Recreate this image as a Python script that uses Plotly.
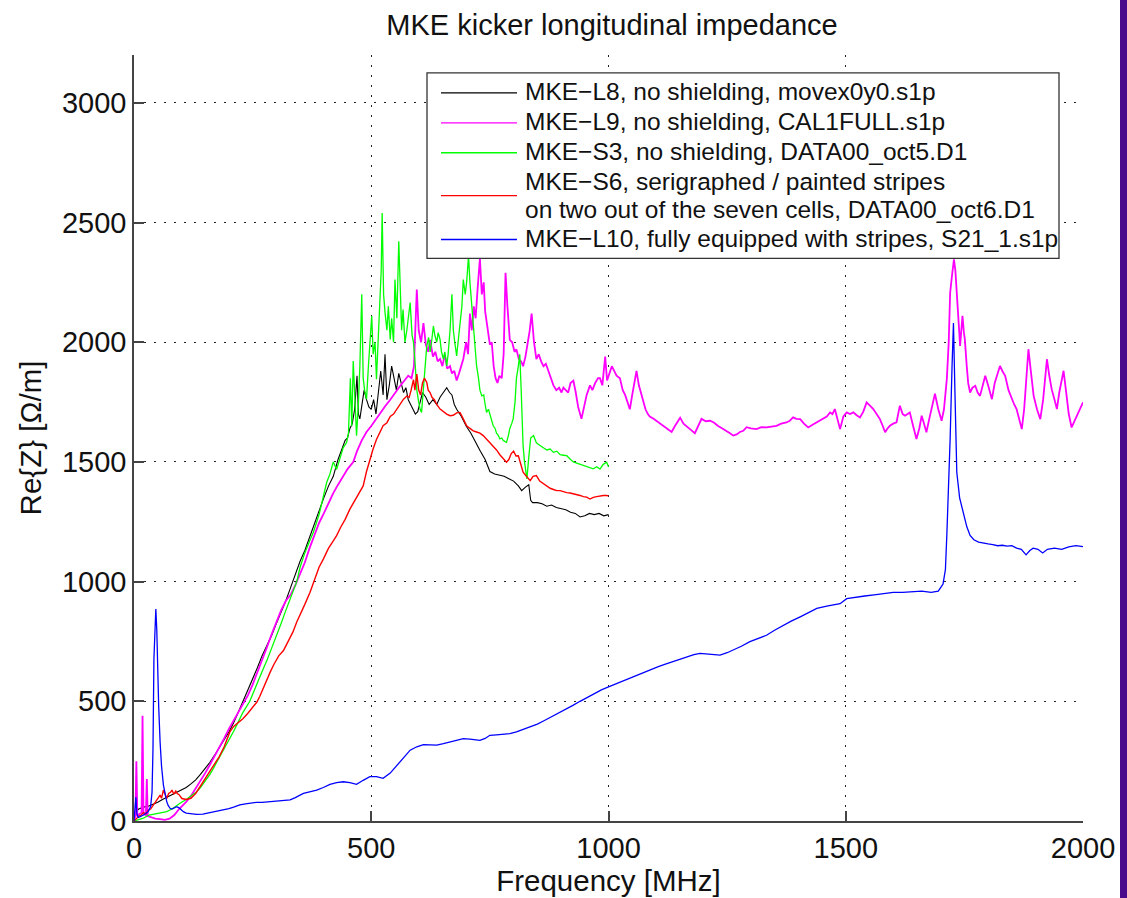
import plotly.graph_objects as go

# ---- MKE-L8, no shielding ----
freq_l8 = [0, 5, 10, 20, 30, 40, 50, 60, 70, 80, 90, 100, 110, 120, 130, 140, 150, 160, 170, 180,
           190, 200, 210, 220, 230, 240, 250, 260, 270, 280, 290, 300, 310, 320, 330, 340, 350, 360,
           370, 380, 390, 400, 410, 420, 430, 440, 445, 450, 455, 460, 465, 470, 473, 476, 480, 485,
           490, 495, 500, 505, 510, 515, 520, 525, 529, 533, 538, 543, 548, 553, 558, 563, 568, 573,
           578, 583, 588, 593, 598, 603, 608, 615, 622, 630, 638, 645, 652, 659, 665, 670, 675, 680,
           690, 700, 710, 720, 730, 740, 750, 760, 770, 780, 790, 800, 810, 817, 825, 832, 836, 840,
           850, 860, 870, 880, 890, 900, 910, 920, 930, 940, 950, 960, 970, 980, 990, 1000]
z_l8 = [5, 40, 50, 58, 62, 70, 78, 90, 100, 108, 118, 127, 140, 155, 172, 195, 218, 245, 275, 305,
        340, 372, 410, 455, 500, 545, 595, 640, 690, 730, 775, 825, 870, 920, 975, 1030, 1085, 1130,
        1185, 1240, 1300, 1350, 1400, 1440, 1510, 1560, 1590, 1600, 1640, 1660, 1720, 1860, 1700, 1680,
        1740, 1800, 1760, 1730, 1720, 1760, 1700, 1800, 1880, 1780, 1950, 1760, 1820, 1900, 1850, 1800,
        1870, 1830, 1790, 1810, 1760, 1740, 1720, 1700, 1710, 1750, 1790, 1770, 1740, 1760, 1740, 1770,
        1790, 1810, 1790, 1780, 1740, 1720, 1690, 1650, 1620, 1580, 1545, 1510, 1460, 1450, 1445, 1440,
        1430, 1420, 1400, 1380, 1395, 1405, 1340, 1330, 1330, 1325, 1315, 1320, 1310, 1305, 1300, 1290,
        1285, 1270, 1275, 1285, 1280, 1285, 1275, 1280]

# ---- MKE-L9, no shielding ----
freq_l9 = [0, 3, 5, 7, 12, 16, 18, 20, 25, 27, 29, 35, 45, 55, 65, 75, 85, 95, 100, 110, 120, 130,
           140, 150, 160, 170, 180, 190, 200, 210, 220, 234, 240, 250, 260, 270, 280, 290, 300, 310,
           320, 330, 340, 350, 360, 370, 380, 390, 400, 410, 420, 430, 440, 450, 462, 470, 480, 490,
           500, 510, 520, 530, 540, 550, 560, 570, 578, 585, 590, 596, 600, 605, 610, 615, 620, 624,
           630, 635, 640, 645, 650, 655, 660, 666, 670, 675, 680, 685, 690, 694, 700, 704, 708, 712,
           716, 720, 724, 729, 733, 737, 740, 745, 750, 754, 758, 762, 766, 770, 775, 779, 783, 787,
           792, 797, 802, 806, 811, 816, 820, 825, 830, 834, 838, 843, 848, 853, 858, 863, 868, 873,
           878, 884, 890, 896, 901, 905, 910, 915, 920, 926, 931, 936, 943, 948, 954, 961, 966, 972,
           978, 982, 987, 993, 997, 1002, 1007, 1012, 1017, 1024, 1030, 1035, 1040, 1045, 1050, 1055,
           1059, 1064, 1069, 1073, 1078, 1083, 1087, 1095, 1102, 1109, 1116, 1124, 1133, 1140, 1146,
           1151, 1158, 1165, 1173, 1182, 1189, 1196, 1205, 1214, 1222, 1231, 1240, 1249, 1256, 1263,
           1270, 1277, 1284, 1291, 1300, 1312, 1322, 1333, 1343, 1354, 1364, 1375, 1382, 1389, 1396,
           1404, 1412, 1421, 1430, 1439, 1446, 1453, 1460, 1467, 1472, 1477, 1482, 1488, 1495, 1502,
           1509, 1516, 1523, 1530, 1537, 1544, 1551, 1558, 1565, 1572, 1578, 1583, 1588, 1593, 1600,
           1607, 1614, 1620, 1625, 1630, 1635, 1642, 1649, 1655, 1660, 1665, 1670, 1676, 1682, 1688,
           1695, 1702, 1707, 1713, 1717, 1720, 1724, 1728, 1731, 1734, 1738, 1741, 1744, 1746, 1749,
           1751, 1755, 1758, 1762, 1767, 1773, 1778, 1783, 1788, 1794, 1800, 1808, 1814, 1820, 1825,
           1830, 1836, 1843, 1850, 1855, 1860, 1866, 1871, 1876, 1881, 1885, 1890, 1896, 1903, 1910,
           1916, 1920, 1924, 1929, 1934, 1940, 1945, 1950, 1955, 1959, 1964, 1970, 1976, 1982, 1987,
           1993, 2000]
z_l9 = [5, 20, 250, 20, 30, 35, 440, 30, 25, 175, 20, 15, 10, 8, 5, 10, 25, 50, 60, 80, 105, 135,
        165, 200, 235, 270, 305, 345, 385, 420, 455, 500, 525, 570, 620, 675, 725, 780, 830, 880,
        920, 945, 985, 1030, 1080, 1140, 1195, 1245, 1285, 1330, 1370, 1405, 1440, 1470, 1500, 1545,
        1590, 1625, 1650, 1680, 1705, 1735, 1760, 1790, 1815, 1840, 1860, 1850, 1900, 2220, 2050,
        2000, 2080, 1990, 1960, 2010, 1940, 1960, 1920, 1930, 1900, 1950, 1890, 1900, 1870, 1880,
        1840, 1870, 1900, 1930, 2000, 1950, 2120, 2050, 2150, 2100, 2220, 2350, 2200, 2250, 2130,
        2050, 1990, 2000, 1900, 1850, 1830, 1860, 1850, 1950, 2290, 2150, 2010, 2000, 1960, 1970,
        1930, 1920, 1900, 1940, 2000, 2050, 2120, 2000, 1930, 1950, 1920, 1900, 1910, 1880, 1850,
        1820, 1800, 1810, 1790, 1810, 1800, 1790, 1830, 1840, 1790, 1730, 1680, 1720, 1780, 1820,
        1800, 1830, 1850, 1850, 1820, 1940, 1840, 1870, 1900, 1880, 1860, 1850, 1800, 1780, 1750,
        1720, 1780, 1840, 1880, 1820, 1780, 1750, 1720, 1700, 1690, 1680, 1670, 1660, 1650, 1640,
        1625, 1650, 1670, 1685, 1660, 1650, 1635, 1620, 1650, 1680, 1670, 1672, 1665, 1650, 1640,
        1630, 1620, 1610, 1615, 1625, 1630, 1645, 1640, 1637, 1645, 1644, 1648, 1651, 1660, 1665,
        1672, 1686, 1680, 1679, 1660, 1644, 1655, 1665, 1672, 1679, 1690, 1707, 1700, 1721, 1680,
        1637, 1690, 1707, 1700, 1707, 1695, 1686, 1710, 1749, 1735, 1721, 1700, 1679, 1650, 1624,
        1640, 1651, 1660, 1665, 1735, 1700, 1693, 1700, 1707, 1650, 1596, 1640, 1693, 1660, 1624,
        1680, 1740, 1785, 1720, 1672, 1720, 1846, 2000, 2207, 2280, 2346, 2300, 2221, 2080, 1985,
        2060, 2110, 2040, 2012, 1900, 1830, 1790, 1810, 1818, 1790, 1776, 1810, 1860, 1820, 1762,
        1830, 1870, 1901, 1880, 1860, 1800, 1762, 1740, 1721, 1680, 1637, 1720, 1850, 1971, 1880,
        1776, 1720, 1679, 1760, 1850, 1929, 1860, 1804, 1760, 1721, 1790, 1850, 1881, 1800, 1700,
        1644, 1670, 1693, 1720, 1749]

# ---- MKE-S3, no shielding ----
freq_s3 = [0, 10, 20, 32, 45, 55, 69, 80, 90, 97, 110, 120, 132, 140, 150, 160, 167, 180, 190, 202,
           210, 220, 230, 244, 250, 260, 270, 280, 290, 300, 310, 320, 330, 343, 350, 360, 370, 378,
           390, 400, 406, 413, 420, 427, 434, 441, 448, 452, 456, 459, 462, 466, 469, 473, 476, 480,
           483, 486, 490, 494, 497, 501, 504, 508, 511, 514, 518, 521, 523, 526, 529, 533, 536, 540,
           543, 547, 550, 554, 558, 561, 564, 567, 571, 575, 578, 582, 586, 589, 592, 596, 600, 603,
           606, 610, 614, 617, 621, 624, 627, 631, 634, 638, 641, 645, 648, 652, 655, 659, 662, 666,
           670, 673, 676, 680, 683, 687, 691, 694, 698, 701, 705, 708, 712, 715, 718, 722, 726, 729,
           733, 737, 740, 743, 747, 750, 754, 757, 761, 764, 768, 771, 775, 778, 782, 785, 789, 792,
           796, 799, 803, 806, 810, 813, 816, 818, 820, 823, 826, 828, 832, 836, 842, 848, 855, 862,
           870, 877, 884, 891, 898, 905, 912, 920, 926, 933, 940, 947, 954, 961, 968, 975, 982, 989,
           996, 1000]
z_s3 = [0, 5, 12, 25, 30, 33, 39, 50, 62, 74, 90, 105, 122, 140, 165, 195, 219, 265, 300, 344,
        375, 415, 455, 500, 530, 580, 625, 670, 720, 770, 825, 880, 935, 1000, 1060, 1120, 1170, 1206,
        1280, 1360, 1414, 1450, 1500, 1469, 1520, 1560, 1581, 1620, 1850, 1650, 1922, 1700, 1610, 1750,
        1900, 2200, 1850, 1800, 1762, 1900, 2000, 2110, 1950, 2000, 1846, 2000, 2150, 2300, 2540, 2200,
        2125, 2050, 2150, 2012, 2100, 2000, 2262, 2100, 2422, 2200, 2050, 2137, 2000, 2050, 2100, 2166,
        2030, 2000, 1925, 1800, 1750, 1720, 1707, 1800, 1900, 1985, 2020, 1960, 2000, 2068, 2030, 2000,
        2040, 2012, 1960, 1930, 1960, 1901, 1950, 2050, 2200, 2050, 2000, 1943, 2000, 2080, 2150, 2262,
        2200, 2250, 2360, 2250, 2150, 2054, 1980, 1901, 1850, 1800, 1776, 1780, 1740, 1707, 1720, 1700,
        1670, 1651, 1640, 1620, 1610, 1596, 1600, 1590, 1585, 1582, 1610, 1640, 1660, 1679, 1750, 1850,
        1901, 1950, 1800, 1650, 1568, 1500, 1460, 1429, 1520, 1600, 1610, 1580, 1570, 1560, 1550, 1554,
        1540, 1545, 1530, 1528, 1526, 1510, 1500, 1495, 1490, 1485, 1480, 1475, 1471, 1480, 1470, 1490,
        1499, 1480]

# ---- MKE-S6, serigraphed / painted stripes on two of seven cells ----
freq_s6 = [0, 5, 10, 15, 20, 25, 30, 35, 41, 45, 50, 55, 58, 62, 66, 69, 73, 77, 80, 84, 88, 91, 95,
           101, 110, 120, 130, 140, 150, 160, 174, 180, 190, 202, 210, 220, 230, 240, 250, 259, 265,
           270, 280, 287, 295, 305, 315, 325, 335, 343, 350, 360, 371, 380, 390, 399, 410, 420, 427,
           435, 445, 455, 465, 475, 483, 490, 497, 504, 511, 518, 525, 533, 540, 547, 554, 561, 568,
           575, 580, 584, 589, 592, 596, 600, 604, 608, 612, 617, 620, 624, 628, 633, 638, 645, 652,
           659, 666, 673, 680, 687, 694, 701, 708, 715, 722, 729, 736, 743, 750, 757, 764, 771, 778,
           785, 790, 795, 800, 805, 810, 815, 820, 827, 835, 841, 848, 855, 863, 870, 877, 884, 891,
           898, 905, 912, 919, 926, 933, 940, 947, 954, 961, 968, 975, 982, 989, 996, 1000]
z_s6 = [0, 10, 20, 25, 35, 30, 45, 50, 67, 75, 90, 108, 95, 129, 110, 94, 115, 120, 129, 112, 125,
        115, 110, 94, 90, 95, 115, 145, 175, 210, 247, 270, 310, 372, 395, 410, 428, 450, 475, 497,
        520, 545, 590, 622, 655, 690, 712, 750, 790, 831, 860, 905, 956, 1010, 1060, 1094, 1140, 1170,
        1192, 1225, 1260, 1303, 1340, 1375, 1400, 1460, 1511, 1555, 1594, 1620, 1651, 1664, 1690, 1700,
        1719, 1740, 1762, 1775, 1770, 1800, 1844, 1800, 1867, 1800, 1780, 1830, 1850, 1832, 1800, 1790,
        1770, 1760, 1740, 1721, 1710, 1700, 1693, 1695, 1705, 1707, 1680, 1651, 1640, 1630, 1625, 1620,
        1610, 1595, 1580, 1568, 1550, 1530, 1515, 1499, 1510, 1535, 1545, 1525, 1526, 1490, 1457, 1440,
        1422, 1440, 1443, 1420, 1408, 1400, 1390, 1385, 1380, 1380, 1375, 1372, 1370, 1367, 1365, 1360,
        1355, 1353, 1345, 1352, 1355, 1358, 1360, 1360, 1358]

# ---- MKE-L10, fully equipped with stripes ----
freq_l10 = [0, 2, 4, 6, 9, 13, 20, 30, 35, 38, 40, 42, 44, 46, 48, 49, 52, 55, 58, 62, 66, 69, 72,
            76, 80, 85, 90, 95, 100, 104, 110, 120, 132, 145, 153, 165, 175, 188, 200, 210, 223, 235,
            247, 259, 270, 282, 294, 305, 318, 329, 340, 350, 357, 370, 385, 399, 413, 427, 441, 455,
            469, 483, 497, 511, 525, 540, 554, 568, 582, 596, 610, 624, 638, 652, 666, 680, 694, 708,
            722, 729, 740, 750, 764, 778, 792, 806, 820, 835, 850, 865, 880, 895, 910, 925, 940, 955,
            970, 985, 1000, 1015, 1030, 1045, 1060, 1075, 1090, 1105, 1120, 1135, 1150, 1165, 1180,
            1193, 1210, 1235, 1250, 1263, 1280, 1298, 1315, 1333, 1350, 1368, 1385, 1404, 1420, 1439,
            1460, 1475, 1488, 1502, 1520, 1540, 1560, 1580, 1600, 1620, 1640, 1660, 1680, 1695, 1705,
            1710, 1713, 1717, 1720, 1724, 1727, 1730, 1734, 1740, 1748, 1755, 1762, 1770, 1780, 1790,
            1800, 1810, 1820, 1830, 1840, 1850, 1860, 1870, 1880, 1888, 1895, 1905, 1915, 1925, 1940,
            1955, 1970, 1985, 2000]
z_l10 = [0, 60, 100, 30, 15, 18, 25, 39, 60, 120, 300, 678, 820, 886, 800, 678, 480, 330, 230, 150,
         105, 81, 65, 53, 50, 55, 60, 55, 45, 39, 33, 30, 28, 29, 32, 36, 40, 46, 52, 58, 67, 72, 76,
         78, 78, 80, 81, 82, 84, 88, 98, 108, 115, 122, 129, 140, 153, 160, 164, 160, 153, 170, 185,
         185, 178, 200, 233, 265, 296, 310, 319, 318, 317, 323, 330, 337, 344, 342, 338, 337, 345, 358,
         360, 361, 365, 372, 382, 393, 405, 420, 435, 450, 467, 483, 500, 517, 533, 548, 560, 572, 585,
         597, 610, 622, 635, 645, 655, 665, 675, 685, 695, 700, 697, 693, 703, 714, 730, 749, 762, 776,
         797, 818, 835, 853, 870, 888, 898, 903, 908, 929, 935, 940, 945, 950, 955, 955, 958, 960, 955,
         960, 990, 1050, 1193, 1400, 1596, 1900, 2080, 1800, 1457, 1350, 1290, 1230, 1193, 1175, 1165,
         1160, 1158, 1155, 1150, 1152, 1148, 1150, 1140, 1135, 1112, 1130, 1140, 1135, 1120, 1135, 1140,
         1135, 1145, 1150, 1146]

# legend rows: label lines (one list per series)
legend_lines = [
    ["MKE\u2212L8, no shielding, movex0y0.s1p"],
    ["MKE\u2212L9, no shielding, CAL1FULL.s1p"],
    ["MKE\u2212S3, no shielding, DATA00_oct5.D1"],
    ["MKE\u2212S6, serigraphed / painted stripes",
     "on two out of the seven cells, DATA00_oct6.D1"],
    ["MKE\u2212L10, fully equipped with stripes, S21_1.s1p"],
]
line_colors = ["#000000", "#ff00ff", "#00ff00", "#ff0000", "#0000ff"]
line_widths = [1.1, 1.8, 1.3, 1.4, 1.3]
series = [(freq_l8, z_l8), (freq_l9, z_l9), (freq_s3, z_s3), (freq_s6, z_s6), (freq_l10, z_l10)]

x_ticks = [0, 500, 1000, 1500, 2000]
y_ticks = [0, 500, 1000, 1500, 2000, 2500, 3000]

FONT = "Liberation Sans, Arial, Helvetica, sans-serif"

# plot area in page pixels
PL, PR, PT, PB = 134, 1083, 55, 823


def px(x):
    return (x - PL) / (PR - PL)


def py(y):
    return (PB - y) / (PB - PT)


fig = go.Figure()
for (fx, zy), lines, col, lw in zip(series, legend_lines, line_colors, line_widths):
    fig.add_trace(go.Scatter(x=fx, y=zy, mode="lines", name=" ".join(lines),
                             line=dict(color=col, width=lw), showlegend=False))

axis_common = dict(
    showgrid=True, gridcolor="#222222", gridwidth=1, griddash="2px,8px",
    showline=True, linecolor="#444444", linewidth=1.5, mirror=False,
    ticks="inside", ticklen=10, tickcolor="#444444", tickwidth=1.5,
    zeroline=False, tickfont=dict(family=FONT, size=29, color="#111111"),
)

fig.update_layout(
    width=1127, height=898,
    margin=dict(l=PL, r=1127 - PR, t=PT, b=898 - PB),
    paper_bgcolor="white", plot_bgcolor="white",
    font=dict(family=FONT, color="#111111"),
    title=dict(text="MKE kicker longitudinal impedance", x=px(612), xref="paper",
               xanchor="center", y=1 - 25 / 898, yref="container", yanchor="middle",
               font=dict(family=FONT, size=29, color="#111111")),
    xaxis=dict(range=[0, 2000], tickvals=x_ticks,
               title=dict(text="Frequency [MHz]", font=dict(family=FONT, size=29.5), standoff=2),
               **axis_common),
    yaxis=dict(range=[0, 3200], tickvals=y_ticks,
               title=dict(text="Re{Z} [\u03a9/m]", font=dict(family=FONT, size=29.5), standoff=12),
               **axis_common),
    showlegend=False,
)

# legend box
fig.add_shape(type="rect", xref="paper", yref="paper",
              x0=px(427), x1=px(1059), y0=py(259), y1=py(73),
              fillcolor="white", line=dict(color="#333333", width=1.3), layer="above")

# legend samples and labels
sample_y = [93, 123, 153, 196, 240]
text_y = [[93], [123], [153], [183, 211], [240]]
for lines, col, sy, tys in zip(legend_lines, line_colors, sample_y, text_y):
    fig.add_shape(type="line", xref="paper", yref="paper",
                  x0=px(441), x1=px(517), y0=py(sy), y1=py(sy),
                  line=dict(color=col, width=1.3), layer="above")
    for txt, ty in zip(lines, tys):
        fig.add_annotation(text=txt, xref="paper", yref="paper", x=px(523), y=py(ty - 1),
                           xanchor="left", yanchor="middle", showarrow=False,
                           font=dict(family=FONT, size=24.5, color="#111111"))

# dark strip along the right edge of the page
fig.add_shape(type="rect", xref="paper", yref="paper",
              x0=px(1120), x1=px(1140), y0=-0.2, y1=1.2,
              fillcolor="#4a0a8c", line=dict(width=0), layer="above")

fig.write_html("out.html")
